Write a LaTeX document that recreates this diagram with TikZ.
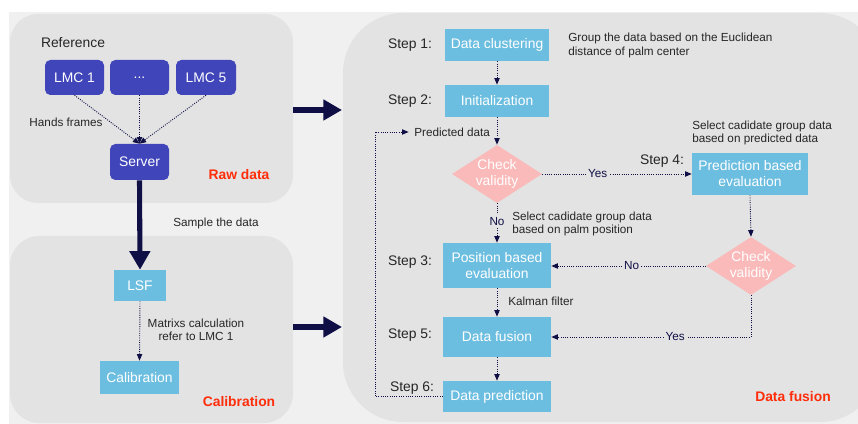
\documentclass[tikz,border=0pt]{standalone}
\usepackage{fontspec}
\setmainfont{Liberation Sans}
\usetikzlibrary{arrows.meta,shapes.geometric}
\definecolor{navy}{RGB}{15,15,70}
\definecolor{dkblue}{RGB}{64,70,186}
\definecolor{ltblue}{RGB}{108,190,224}
\definecolor{pinkd}{RGB}{250,186,186}
\definecolor{redtxt}{RGB}{255,45,10}
\definecolor{panelgray}{RGB}{227,227,227}
\definecolor{outerbg}{RGB}{240,240,240}
\newcommand{\bigf}{\fontsize{10.4}{12}\selectfont}
\newcommand{\smallf}{\fontsize{8.8}{10}\selectfont}
\tikzset{
  darknode/.style={fill=dkblue, text=white, rounded corners=4pt, font=\bigf, inner sep=0pt},
  lbnode/.style={fill=ltblue, text=white, font=\bigf, inner sep=0pt, align=center},
  diam/.style={shape=diamond, fill=pinkd, text=white, font=\bigf, inner sep=0pt, aspect=1.55,
    minimum width=67.5pt, minimum height=43.5pt, align=center},
  lbl/.style={font=\smallf, text=black!85, inner sep=0pt},
  steplbl/.style={font=\bigf, text=black!85, inner sep=0pt},
  grouplbl/.style={font=\bfseries\bigf, text=redtxt, inner sep=0pt},
  yn/.style={font=\smallf, text=navy, fill=panelgray, inner sep=1.5pt},
  conn/.style={draw=navy, densely dotted, line width=0.7pt, -{Triangle[length=5pt,width=4pt]}},
  fat/.style={draw=navy, line width=3.8pt, -{Triangle[length=14pt,width=15pt]}}
}
\begin{document}
\begin{tikzpicture}[x=0.75pt,y=-0.75pt]
\useasboundingbox (0,0) rectangle (858,424);
\fill[white] (0,0) rectangle (858,424);
\fill[outerbg] (9,12) rectangle (858,424);
% panels
\fill[panelgray, rounded corners=21pt] (10,14) rectangle (293,203);
\fill[panelgray, rounded corners=22pt] (10,236) rectangle (293,423);
\fill[panelgray, rounded corners=45pt] (343,13) rectangle (880,422);

% ---------- Raw data ----------
\node[steplbl] (ref) at (73,43) {Reference};
\node[darknode, minimum width=44.25pt, minimum height=26.25pt] (lmc1) at (74.5,77.5) {LMC 1};
\node[darknode, minimum width=44.25pt, minimum height=26.25pt] (dots) at (139.5,77.5) {...};
\node[darknode, minimum width=45pt, minimum height=26.25pt] (lmc5) at (206,77.5) {LMC 5};
\node[darknode, minimum width=44.25pt, minimum height=27pt] (server) at (139.5,162) {Server};
\node[lbl] (hf) at (66,122) {Hands frames};
\node[grouplbl] (rawlbl) at (239,175) {Raw data};
\draw[conn] (lmc1.south) -- (server.north);
\draw[conn] (dots.south) -- (server.north);
\draw[conn] (lmc5.south) -- (server.north);

% ---------- Calibration ----------
\node[lbnode, minimum width=39pt, minimum height=23.25pt] (lsf) at (140,285.5) {LSF};
\node[lbnode, minimum width=59.25pt, minimum height=24.75pt] (calib) at (139.5,377.5) {Calibration};
\node[lbl] (sample) at (216,223) {Sample the data};
\node[lbl, align=center] (matr) at (196,330) {Matrixs calculation\\refer to LMC 1};
\node[grouplbl] (callbl) at (239,402) {Calibration};
\draw[fat] (server.south) -- (lsf.north);
\draw[conn] (lsf.south) -- (calib.north);

% thick arrows to data fusion
\coordinate (a1s) at (293,110);
\coordinate (a1e) at (342,110);
\coordinate (a2s) at (293,327);
\coordinate (a2e) at (342,327);
\draw[fat] (a1s) -- (a1e);
\draw[fat] (a2s) -- (a2e);

% ---------- Data fusion ----------
\node[lbnode, minimum width=78pt, minimum height=24pt] (dc) at (497,45) {Data clustering};
\node[lbnode, minimum width=78pt, minimum height=24pt] (init) at (497,101) {Initialization};
\node[diam] (cv1) at (497,174) {Check\\validity};
\node[lbnode, minimum width=87pt, minimum height=31.5pt] (pbe) at (750,174) {Prediction based\\evaluation};
\node[diam] (cv2) at (751,266) {Check\\validity};
\node[lbnode, minimum width=81pt, minimum height=33.75pt] (posbe) at (497,265.5) {Position based\\evaluation};
\node[lbnode, minimum width=81pt, minimum height=30pt] (df) at (497,337) {Data fusion};
\node[lbnode, minimum width=81pt, minimum height=23.25pt] (dp) at (497,396.5) {Data prediction};

\node[steplbl] (s1) at (410,45) {Step 1:};
\node[steplbl] (s2) at (410,101) {Step 2:};
\node[steplbl] (s3) at (410,262) {Step 3:};
\node[steplbl] (s4) at (662,161) {Step 4:};
\node[steplbl] (s5) at (410,335) {Step 5:};
\node[steplbl] (s6) at (412,388) {Step 6:};

\node[lbl, anchor=west, align=left] (grp) at (568,45.5) {Group the data based on the Euclidean\\distance of palm center};
\node[lbl, anchor=west] (pd) at (414,132) {Predicted data};
\node[lbl, anchor=west, align=left] (selp) at (692,133) {Select cadidate group data\\based on predicted data};
\node[lbl, anchor=west, align=left] (selpos) at (512,224) {Select cadidate group data\\based on palm position};
\node[lbl, anchor=west] (kal) at (508,301) {Kalman filter};
\node[grouplbl] (dflbl) at (793,397) {Data fusion};

\coordinate (fbx) at (375,0);
\draw[conn] (dc.south) -- (init.north);
\draw[conn] (init.south) -- (cv1.north);
\draw[conn] (cv1.east) -- node[yn, pos=0.37] {Yes} (pbe.west);
\draw[conn] (cv1.south) -- node[yn, pos=0.45] {No} (posbe.north);
\draw[conn] (pbe.south) -- (cv2.north);
\draw[conn] (cv2.west) -- node[yn, pos=0.48] {No} (posbe.east |- cv2.west);
\draw[conn] (posbe.south) -- (df.north);
\draw[conn] (cv2.south) |- node[yn, pos=0.69] {Yes} (df.east);
\draw[conn] (df.south) -- (dp.north);
\draw[conn, shorten >=4pt] (dp.west) -- (dp.west -| fbx) |- (pd.west);
\end{tikzpicture}
\end{document}
